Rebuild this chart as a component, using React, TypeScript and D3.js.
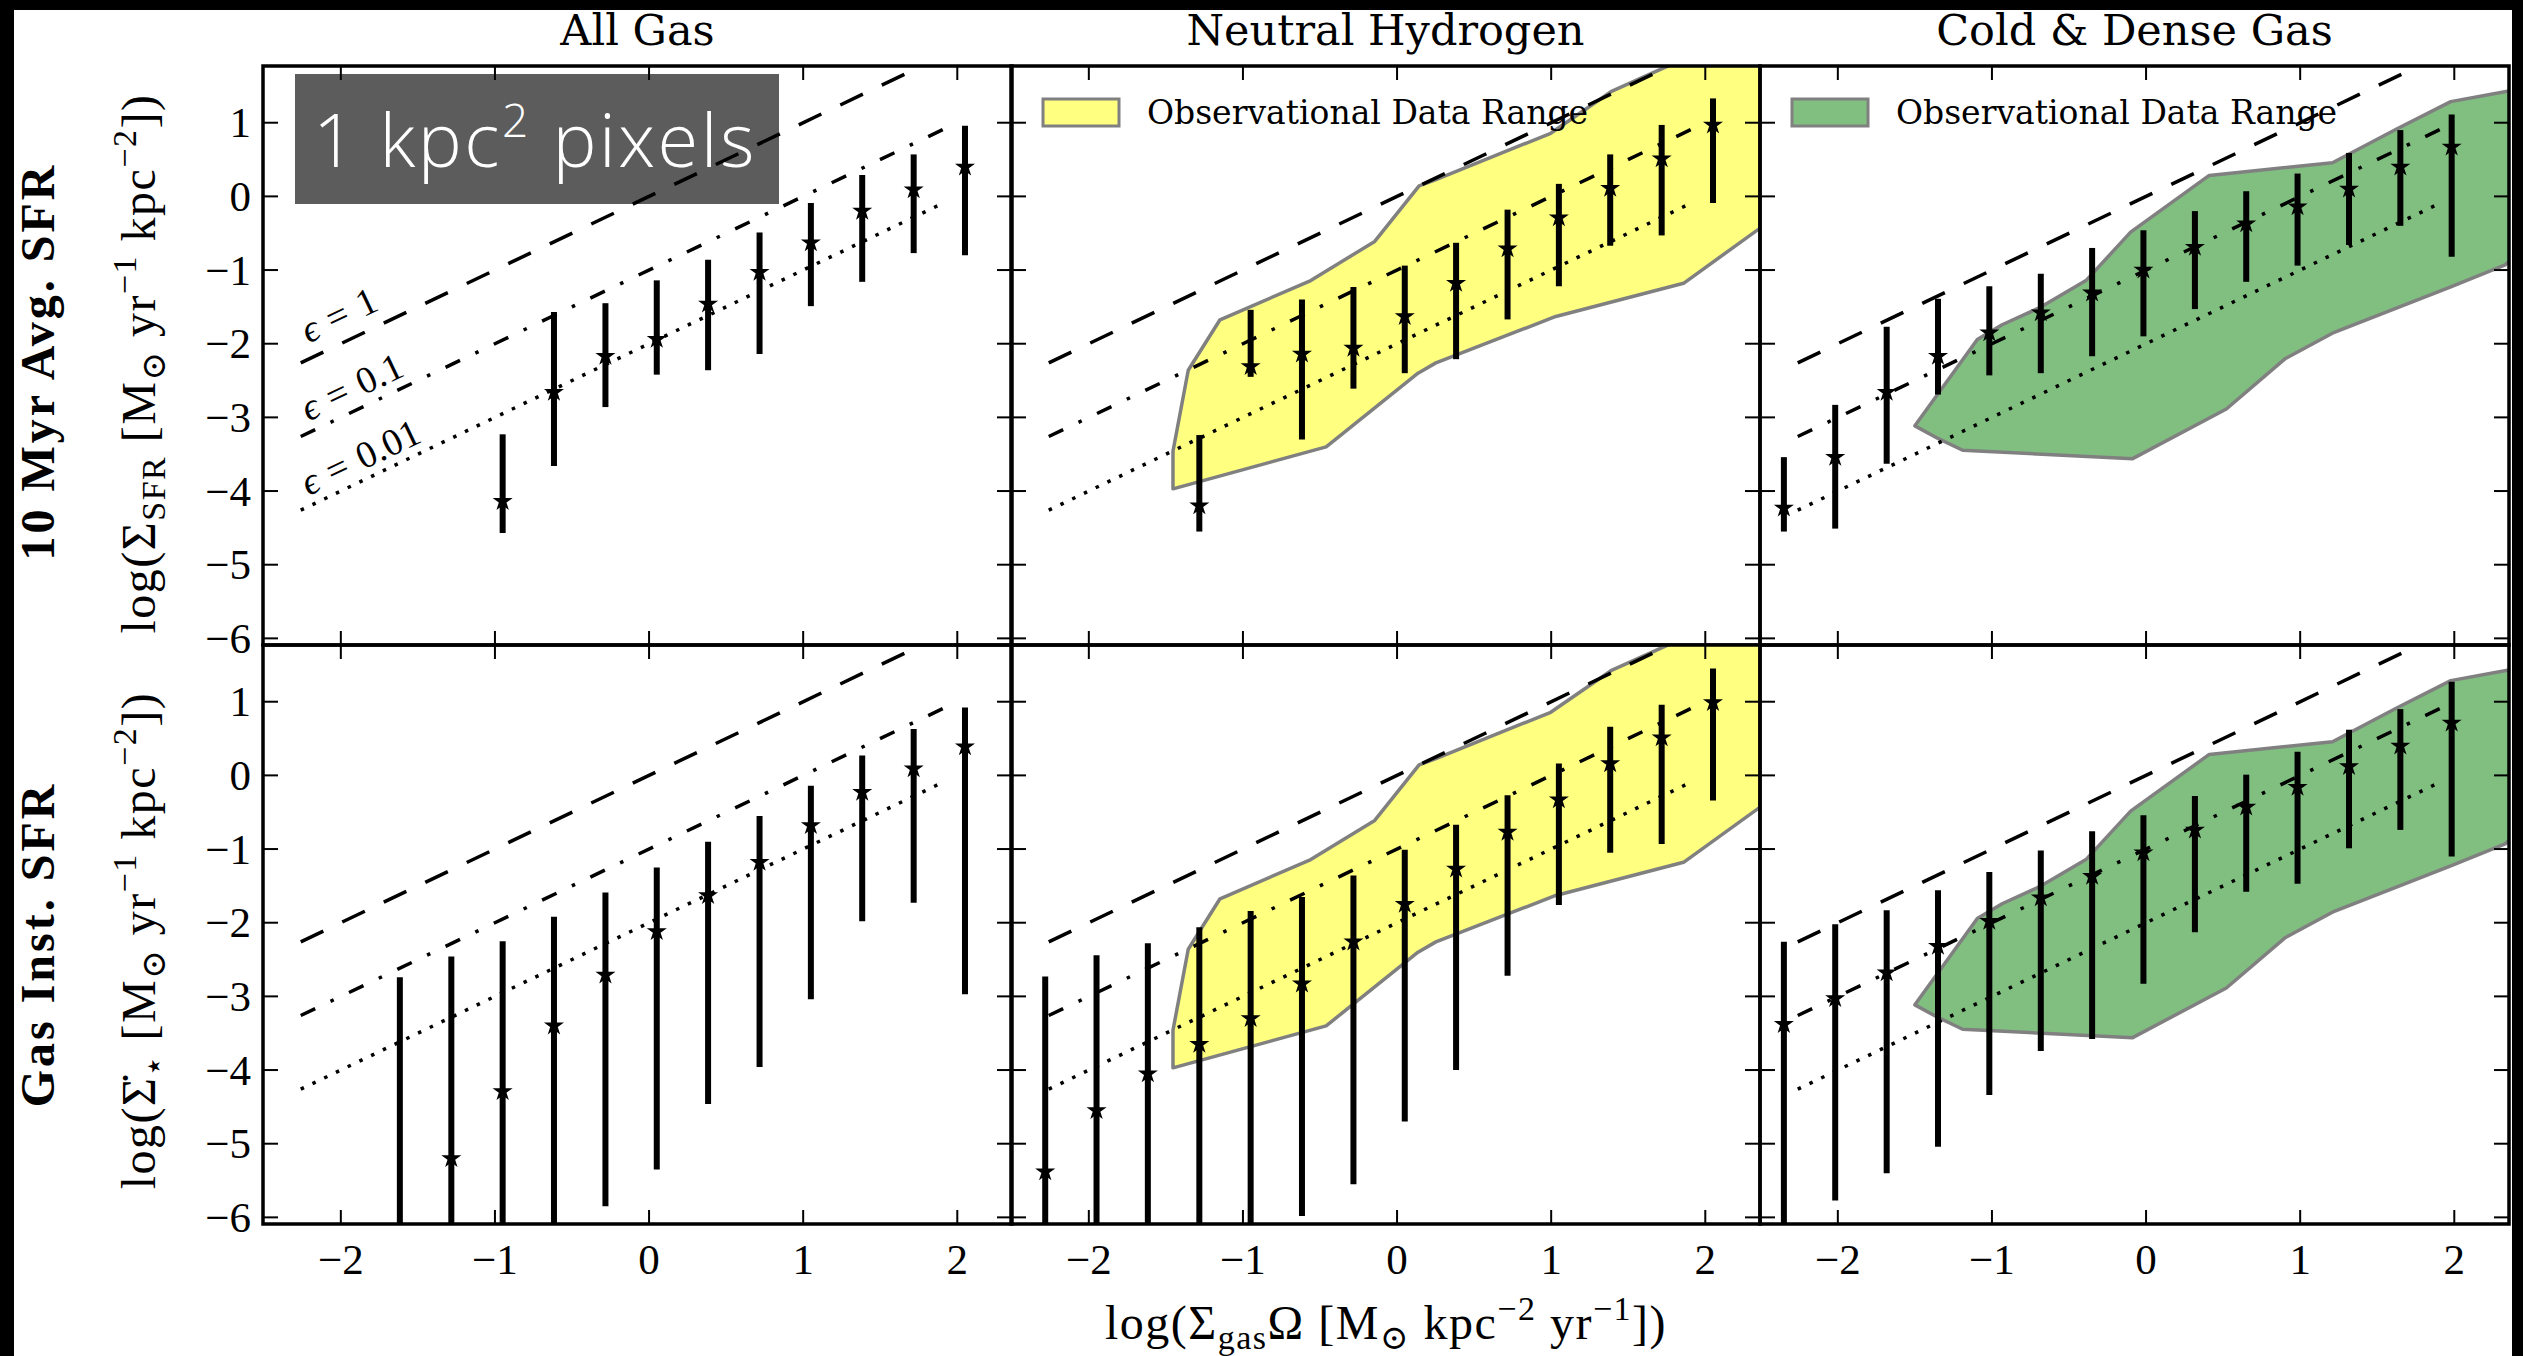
import * as d3 from "d3";

// ---------- values ----------
const titles = ["All Gas", "Neutral Hydrogen", "Cold & Dense Gas"];
const rowLabels = ["10 Myr Avg. SFR", "Gas Inst. SFR"];

const xTicks = [-2, -1, 0, 1, 2];
const xTickLabels = ["\u22122", "\u22121", "0", "1", "2"];
const yTicks = [1, 0, -1, -2, -3, -4, -5, -6];
const yTickLabels = ["1", "0", "\u22121", "\u22122", "\u22123", "\u22124", "\u22125", "\u22126"];

// efficiency lines (eps = 1, 0.1, 0.01)
const effX = [-2.26, 1.92];
const eff1Y = [-2.26, 1.92];
const eff01Y = [-3.26, 0.92];
const eff001Y = [-4.26, -0.08];
const effNames = ["1", "0.1", "0.01"];
const effLabelX = -2.21;
const effLabelY = [-2.0, -3.06, -4.07];

// All gas, 10 Myr average
const allAvgX = [-0.95, -0.617, -0.283, 0.05, 0.383, 0.717, 1.05, 1.383, 1.717, 2.05];
const allAvgMed = [-4.14, -2.66, -2.17, -1.94, -1.46, -1.03, -0.63, -0.2, 0.09, 0.4];
const allAvgLo = [-4.57, -3.66, -2.86, -2.42, -2.36, -2.14, -1.49, -1.16, -0.77, -0.8];
const allAvgHi = [-3.23, -1.57, -1.45, -1.14, -0.86, -0.49, -0.09, 0.29, 0.57, 0.96];

// All gas, instantaneous
const allInstX = [-1.617, -1.283, -0.95, -0.617, -0.283, 0.05, 0.383, 0.717, 1.05, 1.383, 1.717, 2.05];
const allInstMed = [-6.4, -5.2, -4.29, -3.4, -2.71, -2.12, -1.63, -1.18, -0.68, -0.23, 0.09, 0.39];
const allInstLo = [-7.5, -7.5, -7.5, -7.5, -5.85, -5.35, -4.46, -3.96, -3.04, -1.98, -1.73, -2.97];
const allInstHi = [-2.74, -2.46, -2.25, -1.92, -1.59, -1.25, -0.9, -0.55, -0.14, 0.27, 0.63, 0.92];

// Neutral hydrogen, 10 Myr average
const hiAvgX = [-1.283, -0.95, -0.617, -0.283, 0.05, 0.383, 0.717, 1.05, 1.383, 1.717, 2.05];
const hiAvgMed = [-4.2, -2.31, -2.14, -2.06, -1.63, -1.18, -0.71, -0.29, 0.11, 0.51, 0.97];
const hiAvgLo = [-4.55, -2.45, -3.3, -2.61, -2.4, -2.21, -1.67, -1.22, -0.67, -0.53, -0.09];
const hiAvgHi = [-3.24, -1.54, -1.4, -1.23, -0.94, -0.63, -0.18, 0.17, 0.57, 0.97, 1.33];

// Neutral hydrogen, instantaneous
const hiInstX = [-2.283, -1.95, -1.617, -1.283, -0.95, -0.617, -0.283, 0.05, 0.383, 0.717, 1.05, 1.383, 1.717, 2.05];
const hiInstMed = [-5.38, -4.55, -4.05, -3.65, -3.3, -2.83, -2.26, -1.75, -1.27, -0.77, -0.33, 0.16, 0.51, 0.99];
const hiInstLo = [-7.5, -7.5, -7.5, -7.5, -7.5, -5.98, -5.55, -4.7, -4.0, -2.72, -1.76, -1.05, -0.93, -0.34];
const hiInstHi = [-2.73, -2.44, -2.28, -2.06, -1.84, -1.65, -1.36, -1.01, -0.67, -0.27, 0.16, 0.66, 0.96, 1.45];

// Cold & dense gas, 10 Myr average
const cdAvgX = [-2.35, -2.017, -1.683, -1.35, -1.017, -0.683, -0.35, -0.017, 0.317, 0.65, 0.983, 1.317, 1.65, 1.983];
const cdAvgMed = [-4.23, -3.54, -2.66, -2.17, -1.85, -1.58, -1.31, -1.0, -0.69, -0.37, -0.14, 0.1, 0.4, 0.67];
const cdAvgLo = [-4.55, -4.51, -3.63, -2.69, -2.43, -2.4, -2.17, -1.9, -1.53, -1.16, -0.94, -0.66, -0.4, -0.82];
const cdAvgHi = [-3.54, -2.83, -1.77, -1.39, -1.22, -1.05, -0.7, -0.46, -0.2, 0.07, 0.31, 0.59, 0.9, 1.11];

// Cold & dense gas, instantaneous
const cdInstX = [-2.35, -2.017, -1.683, -1.35, -1.017, -0.683, -0.35, -0.017, 0.317, 0.65, 0.983, 1.317, 1.65, 1.983];
const cdInstMed = [-3.38, -3.03, -2.68, -2.32, -1.98, -1.66, -1.37, -1.05, -0.74, -0.43, -0.16, 0.12, 0.4, 0.71];
const cdInstLo = [-7.5, -5.77, -5.4, -5.04, -4.34, -3.74, -3.58, -2.83, -2.13, -1.58, -1.47, -0.99, -0.74, -1.1];
const cdInstHi = [-2.26, -2.02, -1.83, -1.56, -1.31, -1.02, -0.76, -0.54, -0.28, 0.01, 0.32, 0.62, 0.9, 1.27];

// observational ranges
const hiObsX = [-1.454, -1.454, -1.355, -1.149, -0.56, -0.145, 0.143, 0.252, 0.997, 1.395, 1.727, 2.6, 2.6, 2.356, 1.859, 1.03, 0.252, 0.136, -0.46];
const hiObsY = [-3.97, -3.46, -2.36, -1.675, -1.143, -0.611, 0.143, 0.228, 0.857, 1.43, 1.74, 2.55, -0.07, -0.43, -1.18, -1.63, -2.26, -2.4, -3.4];
const cdObsX = [-1.5, -1.095, -0.934, -0.694, -0.39, -0.1, 0.41, 1.21, 1.626, 1.977, 2.345, 2.6, 2.6, 2.33, 1.977, 1.209, 0.905, 0.521, -0.087, -1.19, -1.35];
const cdObsY = [-3.115, -1.943, -1.743, -1.514, -1.143, -0.486, 0.285, 0.457, 0.914, 1.286, 1.428, 1.52, -0.4, -0.93, -1.229, -1.857, -2.2, -2.886, -3.56, -3.446, -3.286];

// ---------- layout ----------
const W = 2523;
const H = 1356;
const colLeft = [263, 1011, 1760];
const rowTop = [66, 645];
const PW = 749;
const PH = 579;
const xDomain = [-2.505, 2.355];
const yDomain = [-6.09, 1.77];

const HI_FILL = "#ffff80";
const CD_FILL = "#80bf80";
const EDGE = "#808080";
const MATH = "'Liberation Serif', 'DejaVu Serif', serif";
const TITLE = "'DejaVu Serif', serif";

type Series = { x: number[]; med: number[]; lo: number[]; hi: number[] };

const series: Series[][] = [
  [
    { x: allAvgX, med: allAvgMed, lo: allAvgLo, hi: allAvgHi },
    { x: hiAvgX, med: hiAvgMed, lo: hiAvgLo, hi: hiAvgHi },
    { x: cdAvgX, med: cdAvgMed, lo: cdAvgLo, hi: cdAvgHi },
  ],
  [
    { x: allInstX, med: allInstMed, lo: allInstLo, hi: allInstHi },
    { x: hiInstX, med: hiInstMed, lo: hiInstLo, hi: hiInstHi },
    { x: cdInstX, med: cdInstMed, lo: cdInstLo, hi: cdInstHi },
  ],
];

const obs = [
  null,
  { x: hiObsX, y: hiObsY, fill: HI_FILL },
  { x: cdObsX, y: cdObsY, fill: CD_FILL },
];

const effLines = [
  { y: eff1Y, dash: "25 21" },
  { y: eff01Y, dash: "16 17 3.5 17" },
  { y: eff001Y, dash: "3.5 9.5" },
];

const starPath = d3.symbol(d3.symbolStar, 125)() || "";

function Panel({ row, col }: { row: number; col: number }) {
  const left = colLeft[col];
  const top = rowTop[row];
  const x = d3.scaleLinear().domain(xDomain).range([left, left + PW]);
  const y = d3.scaleLinear().domain(yDomain).range([top + PH, top]);
  const s = series[row][col];
  const o = obs[col];
  const clipId = `clip-${row}-${col}`;
  const line = d3
    .line<[number, number]>()
    .x((d) => x(d[0]))
    .y((d) => y(d[1]));
  const angle = (Math.atan2(y(0) - y(1), x(1) - x(0)) * 180) / Math.PI;

  return (
    <g>
      <defs>
        <clipPath id={clipId}>
          <rect x={left} y={top} width={PW} height={PH} />
        </clipPath>
      </defs>

      {row === 0 && col === 0 && (
        <g>
          <rect x={295} y={74} width={484} height={130} fill="#5c5c5c" />
          <text
            x={313}
            y={167}
            fill="#fff"
            fontFamily="'Open Sans', Lato, sans-serif"
            fontWeight={300}
            fontSize={74}
            letterSpacing={2.5}
          >
            1 kpc
            <tspan fontSize={46} dy={-30}>2</tspan>
            <tspan dy={30}> pixels</tspan>
          </text>
        </g>
      )}

      <g clipPath={`url(#${clipId})`}>
        {o && (
          <path
            d={(line(o.x.map((v, i) => [v, o.y[i]] as [number, number])) || "") + "Z"}
            fill={o.fill}
            stroke={EDGE}
            strokeWidth={3.5}
            strokeLinejoin="round"
          />
        )}
        {effLines.map((e, i) => (
          <path
            key={i}
            d={line([
              [effX[0], e.y[0]],
              [effX[1], e.y[1]],
            ]) || ""}
            fill="none"
            stroke="#000"
            strokeWidth={3.5}
            strokeDasharray={e.dash}
          />
        ))}
        {s.x.map((v, i) => (
          <line
            key={`e${i}`}
            x1={x(v)}
            x2={x(v)}
            y1={y(s.lo[i])}
            y2={y(s.hi[i])}
            stroke="#000"
            strokeWidth={6}
          />
        ))}
        {s.x.map((v, i) => (
          <path key={`s${i}`} d={starPath} transform={`translate(${x(v)},${y(s.med[i])})`} fill="#000" />
        ))}
      </g>

      {row === 0 && col === 0 &&
        effNames.map((n, i) => (
          <text
            key={n}
            transform={`translate(${x(effLabelX)},${y(effLabelY[i])}) rotate(${-angle})`}
            fontFamily={MATH}
            fontSize={38}
          >
            <tspan fontStyle="italic">{"\u03F5"}</tspan>
            <tspan dx={12}>=</tspan>
            <tspan dx={12}>{n}</tspan>
          </text>
        ))}

      {row === 0 && o && (
        <g>
          <rect x={left + 32} y={99} width={76} height={27} fill={o.fill} stroke={EDGE} strokeWidth={3} />
          <text x={left + 136} y={124} fontFamily={TITLE} fontSize={33}>
            Observational Data Range
          </text>
        </g>
      )}

      {/* ticks */}
      {xTicks.map((t) => (
        <g key={`xt${t}`} stroke="#000" strokeWidth={2}>
          <line x1={x(t)} x2={x(t)} y1={top + PH} y2={top + PH - 14} />
          <line x1={x(t)} x2={x(t)} y1={top} y2={top + 14} />
        </g>
      ))}
      {yTicks.map((t) => (
        <g key={`yt${t}`} stroke="#000" strokeWidth={2}>
          <line x1={left} x2={left + 15} y1={y(t)} y2={y(t)} />
          <line x1={left + PW} x2={left + PW - 15} y1={y(t)} y2={y(t)} />
        </g>
      ))}
      <rect x={left} y={top} width={PW} height={PH} fill="none" stroke="#000" strokeWidth={3.5} />

      {col === 0 &&
        yTicks.map((t, i) => (
          <text
            key={`yl${t}`}
            x={left - 12}
            y={y(t) + 14.5}
            textAnchor="end"
            fontFamily={MATH}
            fontSize={43}
          >
            {yTickLabels[i]}
          </text>
        ))}
      {row === 1 &&
        xTicks.map((t, i) => (
          <text key={`xl${t}`} x={x(t)} y={1274} textAnchor="middle" fontFamily={MATH} fontSize={43}>
            {xTickLabels[i]}
          </text>
        ))}
      {row === 0 && (
        <text x={left + PW / 2} y={45} textAnchor="middle" fontFamily={TITLE} fontSize={43}>
          {titles[col]}
        </text>
      )}
    </g>
  );
}

function UnitsTail() {
  return (
    <>
      <tspan dy={-10}> [M</tspan>
      <tspan dy={10} fontSize={34}>{"\u2299"}</tspan>
      <tspan dy={-10}> yr</tspan>
      <tspan dy={-19} fontSize={34}>{"\u22121"}</tspan>
      <tspan dy={19}> kpc</tspan>
      <tspan dy={-19} fontSize={34}>{"\u22122"}</tspan>
      <tspan dy={19}>])</tspan>
    </>
  );
}

export default function App() {
  const midTop = rowTop[0] + PH / 2;
  const midBot = rowTop[1] + PH / 2;
  return (
    <svg
      width={W}
      height={H}
      viewBox={`0 0 ${W} ${H}`}
      style={{ position: "absolute", left: 0, top: 0, display: "block" }}
    >
      <rect x={0} y={0} width={W} height={H} fill="#000" />
      <rect x={14} y={10} width={2512 - 14} height={H - 10} fill="#fff" />

      {[0, 1].map((r) => [0, 1, 2].map((c) => <Panel key={`${r}${c}`} row={r} col={c} />))}

      {/* row labels */}
      <text
        transform={`translate(54,${midTop + 6}) rotate(-90)`}
        textAnchor="middle"
        fontFamily={MATH}
        fontWeight="bold"
        fontSize={48}
        letterSpacing={3}
      >
        {rowLabels[0]}
      </text>
      <text
        transform={`translate(54,${midBot + 10}) rotate(-90)`}
        textAnchor="middle"
        fontFamily={MATH}
        fontWeight="bold"
        fontSize={48}
        letterSpacing={3}
      >
        {rowLabels[1]}
      </text>

      <text
        transform={`translate(155,${midTop + 8}) rotate(-90)`}
        textAnchor="middle"
        fontFamily={MATH}
        fontSize={48}
        letterSpacing={1.5}
      >
        log({"\u03A3"}
        <tspan dy={10} fontSize={34}>SFR</tspan>
        <UnitsTail />
      </text>
      <text
        transform={`translate(155,${midBot + 6}) rotate(-90)`}
        textAnchor="middle"
        fontFamily={MATH}
        fontSize={48}
        letterSpacing={1.5}
      >
        log({"\u03A3\u0307"}
        <tspan dy={10} fontSize={34}>{"\u22C6"}</tspan>
        <UnitsTail />
      </text>

      <text
        x={(colLeft[0] + colLeft[2] + PW) / 2}
        y={1339}
        textAnchor="middle"
        fontFamily={MATH}
        fontSize={48}
        letterSpacing={1.5}
      >
        log({"\u03A3"}
        <tspan dy={10} fontSize={34}>gas</tspan>
        <tspan dy={-10}>{"\u03A9 [M"}</tspan>
        <tspan dy={10} fontSize={34}>{"\u2299"}</tspan>
        <tspan dy={-10}> kpc</tspan>
        <tspan dy={-19} fontSize={34}>{"\u22122"}</tspan>
        <tspan dy={19}> yr</tspan>
        <tspan dy={-19} fontSize={34}>{"\u22121"}</tspan>
        <tspan dy={19}>])</tspan>
      </text>
    </svg>
  );
}
